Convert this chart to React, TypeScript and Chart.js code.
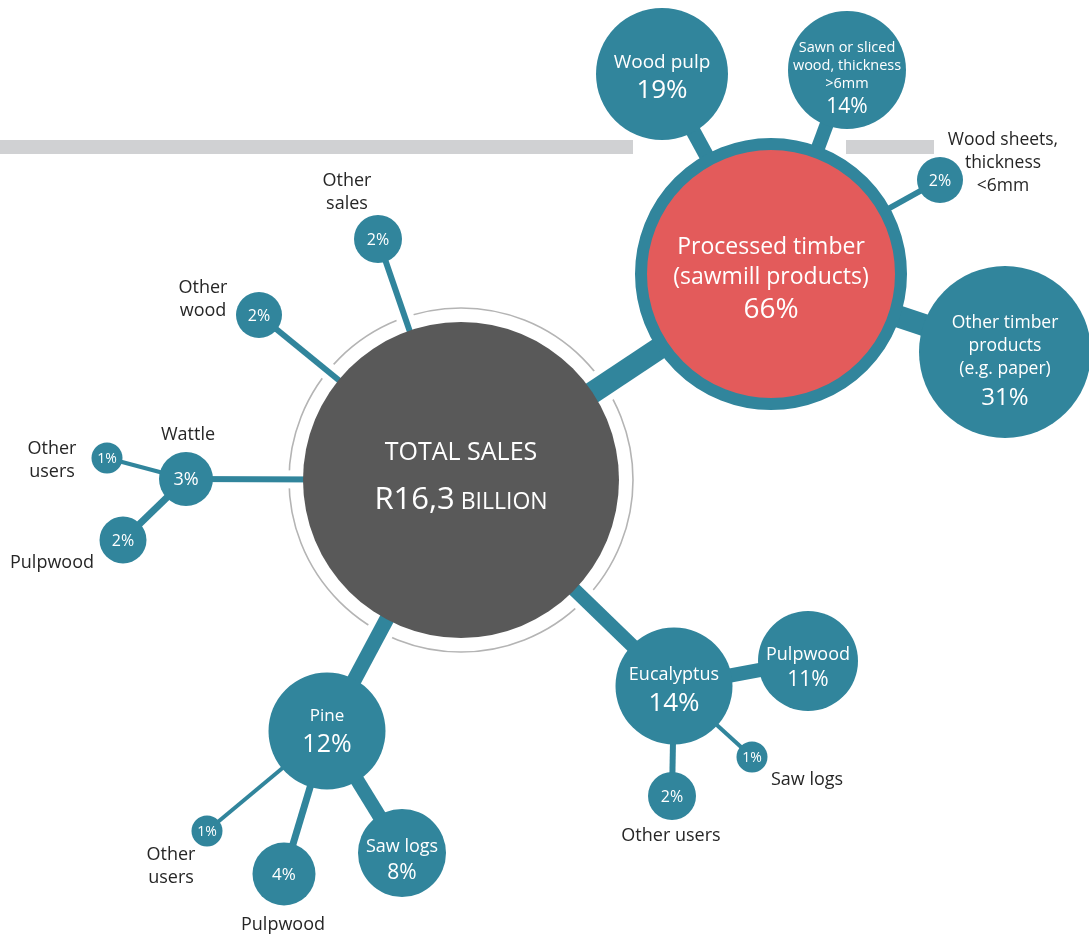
import React, { useEffect, useRef } from "react";
import { Chart, registerables } from "chart.js";
Chart.register(...registerables);

const W = 1089;
const H = 935;

// ---- data ----
const nodeNames = [
  "TOTAL SALES",
  "Processed timber\n(sawmill products)",
  "Wood pulp",
  "Sawn or sliced\nwood, thickness\n>6mm",
  "Wood sheets,\nthickness\n<6mm",
  "Other timber\nproducts\n(e.g. paper)",
  "Other\nsales",
  "Other\nwood",
  "Wattle",
  "Other\nusers",
  "Pulpwood",
  "Pine",
  "Saw logs",
  "Pulpwood",
  "Other\nusers",
  "Eucalyptus",
  "Pulpwood",
  "Saw logs",
  "Other users",
];
const nodeShares = [100, 66, 19, 14, 2, 31, 2, 2, 3, 1, 2, 12, 8, 4, 1, 14, 11, 1, 2];
const parentIndex = [-1, 0, 1, 1, 1, 1, 0, 0, 0, 8, 8, 0, 11, 11, 11, 0, 15, 15, 15];
const totalValueText = "R16,3";
const totalUnitText = " BILLION";

// ---- layout (positions / sizes) ----
const layoutX = [461, 771, 662, 847, 940, 1005, 378, 259, 186, 107, 123, 327, 402, 284, 207, 674, 808, 752, 672];
const layoutY = [480, 274, 74, 70, 180, 352, 239, 315, 479, 458, 540, 731, 853, 874, 831, 686, 661, 757, 796];
const layoutR = [158, 130, 66, 59, 23, 86, 24, 23, 27, 15.5, 23.5, 58.5, 44, 31.5, 15.5, 58.5, 50, 15.5, 24];
const linkWidth = [0, 22, 15, 14, 6, 22, 6, 6, 6, 4, 7, 15, 14, 7, 4, 14, 14, 4, 6];
const nameInside = [true, true, true, true, false, true, false, false, false, false, false, true, true, false, false, true, true, false, false];
const nameFont = [25, 23, 19, 14.5, 17.5, 17.5, 18, 18, 18, 18, 18, 17, 18, 18, 18, 18, 18, 18, 18];
const nameLineH = [0, 30, 0, 18, 23, 23, 23, 23, 0, 23, 0, 0, 0, 0, 23, 0, 0, 0, 0];
const nameDy = [-27, -27, -11, -22, 0, -29, 0, 0, 0, 0, 0, -15, -6, 0, 0, -11, -6, 0, 0];
const shareFont = [31, 28, 26, 21, 16, 24, 16, 16, 18, 14, 16, 25, 21, 17, 14, 26, 21, 14, 16];
const shareDy = [18, 36, 17, 37, 0, 46, 0, 0, 0, 0, 0, 14, 20, 0, 0, 18, 19, 0, 0];
const labelDx = [0, 0, 0, 0, 63, 0, -31, -56, 2, -55, -71, 0, 0, -1, -36, 0, 0, 55, -1];
const labelDy = [0, 0, 0, 0, -40, 0, -58, -27, -44, -9, 23, 0, 0, 51, 24, 0, 0, 23, 40];

const TEAL = "#31859c";
const RED = "#e35b5b";
const DARK = "#595959";
const RING = "#b4b4b4";
const BAR = "#d0d1d3";
const FONT = "'Open Sans', 'Noto Sans', sans-serif";

const bars = [
  [0, 633],
  [846, 934],
];
const barY = 147;

export default function App() {
  const ref = useRef<HTMLCanvasElement>(null);

  useEffect(() => {
    const canvas = ref.current;
    if (!canvas) return;

    const datasets: any[] = [];

    datasets.push({
      type: "bubble",
      data: nodeShares.map((_, i) => ({ x: layoutX[i], y: layoutY[i], r: layoutR[i] })),
      backgroundColor: nodeShares.map((_, i) => (i === 0 ? DARK : i === 1 ? RED : TEAL)),
      borderColor: nodeShares.map(() => TEAL),
      borderWidth: nodeShares.map((_, i) => (i === 1 ? 12 : 0)),
      radius: 0,
      hoverRadius: 0,
      order: 0,
      clip: false,
    });

    parentIndex.forEach((p, i) => {
      if (p < 0) return;
      datasets.push({
        type: "line",
        data: [
          { x: layoutX[p], y: layoutY[p] },
          { x: layoutX[i], y: layoutY[i] },
        ],
        borderColor: TEAL,
        borderWidth: linkWidth[i],
        borderCapStyle: "butt",
        pointRadius: 0,
        fill: false,
        order: 1,
        clip: false,
      });
      if (p === 0) {
        datasets.push({
          type: "line",
          data: [
            { x: layoutX[p], y: layoutY[p] },
            { x: layoutX[i], y: layoutY[i] },
          ],
          borderColor: "#ffffff",
          borderWidth: linkWidth[i] + 12,
          borderCapStyle: "butt",
          pointRadius: 0,
          fill: false,
          order: 2,
          clip: false,
        });
      }
    });

    datasets.push({
      type: "bubble",
      data: [{ x: layoutX[0], y: layoutY[0], r: 172 }],
      backgroundColor: "rgba(0,0,0,0)",
      borderColor: RING,
      borderWidth: 1.6,
      radius: 0,
      hoverRadius: 0,
      order: 3,
      clip: false,
    });

    bars.forEach(([a, b]) => {
      datasets.push({
        type: "line",
        data: [
          { x: a, y: barY },
          { x: b, y: barY },
        ],
        borderColor: BAR,
        borderWidth: 14,
        borderCapStyle: "butt",
        pointRadius: 0,
        fill: false,
        order: 4,
        clip: false,
      });
    });

    const textPlugin = {
      id: "nodeText",
      afterDatasetsDraw(chart: any) {
        const ctx = chart.ctx as CanvasRenderingContext2D;
        const xs = chart.scales.x;
        const ys = chart.scales.y;
        ctx.save();
        ctx.textAlign = "center";
        ctx.textBaseline = "middle";
        nodeShares.forEach((share, i) => {
          const cx = xs.getPixelForValue(layoutX[i]);
          const cy = ys.getPixelForValue(layoutY[i]);
          const lines = nodeNames[i].split("\n");
          if (i === 0) {
            ctx.fillStyle = "#ffffff";
            ctx.font = `${nameFont[0]}px ${FONT}`;
            ctx.fillText(nodeNames[0], cx, cy + nameDy[0]);
            ctx.textAlign = "left";
            ctx.textBaseline = "alphabetic";
            const f1 = `${shareFont[0]}px ${FONT}`;
            const f2 = `${Math.round(shareFont[0] * 0.74)}px ${FONT}`;
            ctx.font = f1;
            const w1 = ctx.measureText(totalValueText).width;
            ctx.font = f2;
            const w2 = ctx.measureText(totalUnitText).width;
            const sx = cx - (w1 + w2) / 2;
            const by = cy + shareDy[0] + shareFont[0] * 0.36;
            ctx.font = f1;
            ctx.fillText(totalValueText, sx, by);
            ctx.font = f2;
            ctx.fillText(totalUnitText, sx + w1, by);
            ctx.textAlign = "center";
            ctx.textBaseline = "middle";
            return;
          }
          ctx.fillStyle = "#ffffff";
          if (nameInside[i]) {
            ctx.font = `${nameFont[i]}px ${FONT}`;
            lines.forEach((ln, k) => {
              ctx.fillText(ln, cx, cy + nameDy[i] + k * nameLineH[i]);
            });
            ctx.font = `${shareFont[i]}px ${FONT}`;
            ctx.fillText(`${share}%`, cx, cy + shareDy[i]);
          } else {
            ctx.font = `${shareFont[i]}px ${FONT}`;
            ctx.fillText(`${share}%`, cx, cy + 1);
            ctx.fillStyle = "#262626";
            ctx.font = `${nameFont[i]}px ${FONT}`;
            lines.forEach((ln, k) => {
              ctx.fillText(ln, cx + labelDx[i], cy + labelDy[i] + k * nameLineH[i]);
            });
          }
        });
        ctx.restore();
      },
    };

    const chart = new Chart(canvas, {
      type: "bubble",
      data: { datasets },
      options: {
        responsive: false,
        animation: false,
        events: [],
        layout: { padding: 0, autoPadding: false },
        elements: { point: { radius: 0, hoverRadius: 0 } },
        scales: {
          x: { type: "linear", min: 0, max: W, display: false },
          y: { type: "linear", min: 0, max: H, reverse: true, display: false },
        },
        plugins: {
          legend: { display: false },
          tooltip: { enabled: false },
        },
      },
      plugins: [textPlugin],
    });
    return () => chart.destroy();
  }, []);

  return (
    <div style={{ position: "absolute", left: 0, top: 0, width: W, height: H, background: "#ffffff" }}>
      <canvas ref={ref} width={W} height={H} style={{ display: "block" }} />
    </div>
  );
}
